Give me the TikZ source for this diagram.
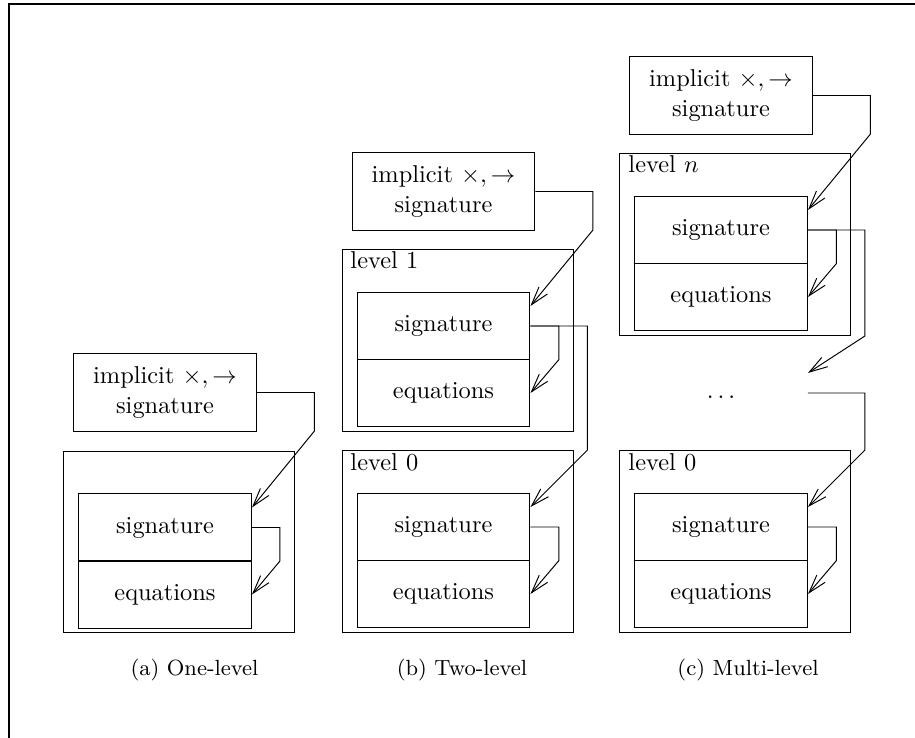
\documentclass[tikz,border=0pt]{standalone}
\usetikzlibrary{arrows.meta,calc}
\begin{document}
\begin{tikzpicture}[x=0.41pt,y=-0.41pt,
  impbox/.style={draw,rectangle,line width=0.4pt,minimum width=75pt,minimum height=31.6pt,align=center,inner sep=0pt},
  levelbox/.style={draw,rectangle,line width=0.4pt,minimum width=94.7pt,minimum height=74.6pt,inner sep=0pt},
  partbox/.style={draw,rectangle,line width=0.4pt,minimum width=70.9pt,minimum height=27.5pt,inner sep=0pt},
  ghostbox/.style={rectangle,minimum width=70.9pt,minimum height=27.5pt,inner sep=0pt},
  lvllabel/.style={anchor=base west,inner sep=0pt},
  capt/.style={anchor=base,inner sep=0pt,font=\small},
  arr/.style={line width=0.4pt,-{Straight Barb[length=7.5pt,width=4.5pt]}},
  lnk/.style={line width=0.4pt}]
\useasboundingbox (0,0) rectangle (915,738);
% frame
\draw[line width=0.8pt] (915,4) -- (9,4) -- (9,738);

% ---------- panel (a)
\node[levelbox] (outA) at (179,542) {};
\node[partbox] (sigA) at (165,527.5) {signature};
\node[partbox] (eqA) at (165,594.5) {equations};
\node[impbox] (impA) at (165,392.5) {implicit $\times,\rightarrow$\\signature};
\draw[arr] (impA.east) -- ++(57.5,0) -- ++(0,38.5) -- ($(sigA.north east)+(0,14)$);
\draw[arr] (sigA.east) -- ++(28,0) -- ++(0,33.5) -- (eqA.east);
\node[capt] (capA) at (194.5,675) {(a) One-level};

% ---------- panel (b)
\node[levelbox] (out1) at (457.5,340.5) {};
\node[lvllabel] (lab1) at (350,268) {level 1};
\node[partbox] (sig1) at (443.5,326) {signature};
\node[partbox] (eq1) at (443.5,393) {equations};
\node[impbox] (impB) at (443.5,191.5) {implicit $\times,\rightarrow$\\signature};
\node[levelbox] (out0b) at (457.5,541.5) {};
\node[lvllabel] (lab0b) at (350,470) {level 0};
\node[partbox] (sig0b) at (443.5,527) {signature};
\node[partbox] (eq0b) at (443.5,594) {equations};
\draw[arr] (impB.east) -- ++(57.5,0) -- ++(0,38.5) -- ($(sig1.north east)+(0,14)$);
\draw[arr] (sig1.east) -- ++(28.5,0) -- ++(0,33.5) -- (eq1.east);
\draw[arr] (sig1.east) -- ++(57,0) coordinate (b1) -- (b1 |- out0b.north) -- ($(sig0b.north east)+(0,14)$);
\draw[arr] (sig0b.east) -- ++(28.5,0) -- ++(0,33.5) -- (eq0b.east);
\node[capt] (capB) at (462,675) {(b) Two-level};

% ---------- panel (c)
\node[levelbox] (outn) at (735,244.5) {};
\node[lvllabel] (labn) at (628,172.5) {level $n$};
\node[partbox] (sign) at (721,230) {signature};
\node[partbox] (eqn) at (721,297) {equations};
\node[impbox] (impC) at (721,95.5) {implicit $\times,\rightarrow$\\signature};
\node[ghostbox] (dots) at (721,393) {\vphantom{signature}$\ldots$};
\node[levelbox] (out0c) at (735,541.5) {};
\node[lvllabel] (lab0c) at (628,470) {level 0};
\node[partbox] (sig0c) at (721,527) {signature};
\node[partbox] (eq0c) at (721,594) {equations};
\draw[arr] (impC.east) -- ++(57.5,0) -- ++(0,38.5) -- ($(sign.north east)+(0,14)$);
\draw[arr] (sign.east) -- ++(28.5,0) -- ++(0,33.5) -- (eqn.east);
\draw[arr] (sign.east) -- ++(57,0) coordinate (c1) -- (c1 |- outn.south) -- ($(dots.north east)+(0,14)$);
\draw[arr] (dots.east) -- ++(57,0) coordinate (c2) -- (c2 |- out0c.north) -- ($(sig0c.north east)+(0,14)$);
\draw[arr] (sig0c.east) -- ++(28.5,0) -- ++(0,33.5) -- (eq0c.east);
\node[capt] (capC) at (748,675) {(c) Multi-level};
\end{tikzpicture}
\end{document}
